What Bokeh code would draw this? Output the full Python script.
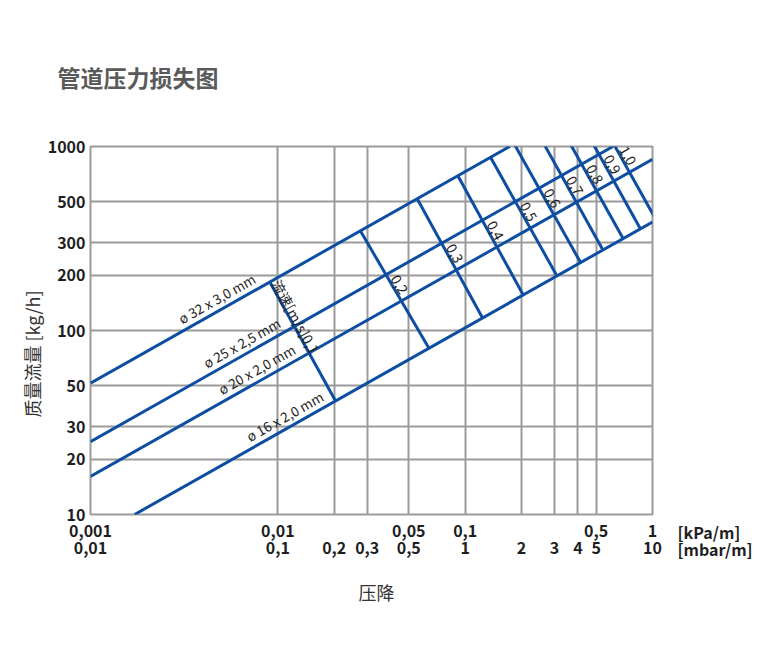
import math
from bokeh.plotting import figure
from bokeh.models import (LogAxis, FixedTicker, CustomJSTickFormatter, Range1d,
                          LogScale, Label, Title)
from bokeh.embed import file_html
from bokeh.resources import INLINE
from bokeh.core.properties import value

# ---------------- data ----------------
kpa_ticks = [0.001, 0.01, 0.05, 0.1, 0.5, 1]
mbar_ticks = [0.01, 0.1, 0.2, 0.3, 0.5, 1, 2, 3, 4, 5, 10]
flow_ticks = [10, 20, 30, 50, 100, 200, 300, 500, 1000]

pipe_names = ["ø 32 x 3,0 mm", "ø 25 x 2,5 mm", "ø 20 x 2,0 mm", "ø 16 x 2,0 mm"]
pipe_dp_start = [0.001, 0.001, 0.001, 0.00172]   # kPa/m
pipe_m_start = [51.7, 24.9, 16.1, 10.0]           # kg/h
pipe_dp_end = [0.173, 0.615, 1.0, 1.0]
pipe_m_end = [1000, 1000, 853, 389]
pipe_label_dp = [0.00507, 0.00689, 0.00828, 0.01168]

vel_labels = ["0,1", "0,2", "0,3", "0,4", "0,5", "0,6", "0,7", "0,8", "0,9", "1,0"]
vel_m_on_32 = [183.5, 348, 520, 693, 873, 1032, 1211, 1395, 1578, 1761]
vel_m_on_16 = [41.4, 80.1, 117, 156, 198, 234, 274, 316, 357, 399]

# ---------------- layout constants ----------------
FW, FH = 562, 368
PXD = FW / 3.0   # px per decade (x)
PYD = FH / 2.0   # px per decade (y)
BLUE = "#0d4ea3"
GRID = "#9b9b9b"
FONT = "Noto Sans CJK SC"
L = math.log10


def pipe_line(i):
    x0, y0 = L(pipe_dp_start[i]), L(pipe_m_start[i])
    x1, y1 = L(pipe_dp_end[i]), L(pipe_m_end[i])
    return x0, y0, (y1 - y0) / (x1 - x0)


def dp_on_pipe(i, m):
    x0, y0, k = pipe_line(i)
    return 10 ** (x0 + (L(m) - y0) / k)


def m_on_pipe(i, dp):
    x0, y0, k = pipe_line(i)
    return 10 ** (y0 + k * (L(dp) - x0))


p = figure(x_axis_type="log", y_axis_type="log",
           x_range=(0.001, 1), y_range=(10, 1000),
           frame_width=FW, frame_height=FH,
           min_border_left=90, min_border_right=128,
           min_border_top=146, min_border_bottom=145,
           output_backend="svg", toolbar_location=None)
p.background_fill_color = "white"
p.border_fill_color = "white"
p.outline_line_color = GRID
p.outline_line_width = 2

# grid
p.xgrid.ticker = FixedTicker(ticks=[m / 10.0 for m in mbar_ticks])
p.ygrid.ticker = FixedTicker(ticks=flow_ticks)
for g in (p.xgrid, p.ygrid):
    g.grid_line_color = GRID
    g.grid_line_width = 2

fmt = CustomJSTickFormatter(code="return String(tick).replace('.', ',');")


def style_axis(ax):
    ax.axis_line_color = None
    ax.major_tick_line_color = None
    ax.minor_tick_line_color = None
    ax.major_tick_out = 0
    ax.major_tick_in = 0
    ax.major_label_text_font = FONT
    ax.major_label_text_font_size = "16px"
    ax.major_label_text_font_style = "bold"
    ax.major_label_text_color = "#1e1e1e"
    ax.formatter = fmt


p.xaxis.ticker = FixedTicker(ticks=kpa_ticks)
p.yaxis.ticker = FixedTicker(ticks=flow_ticks)
style_axis(p.xaxis[0])
style_axis(p.yaxis[0])
p.xaxis.major_label_standoff = 10
p.yaxis.major_label_standoff = 5

p.extra_x_ranges = {"mbar": Range1d(0.01, 10)}
p.extra_x_scales = {"mbar": LogScale()}
ax2 = LogAxis(x_range_name="mbar", ticker=FixedTicker(ticks=mbar_ticks))
style_axis(ax2)
ax2.major_label_standoff = 2
p.add_layout(ax2, "below")

# y axis title as a side-panel title (shifted along the side)
ykw = dict(text="质量流量 [kg/h]", align="left", offset=97,
           text_font=FONT, text_font_size="18px", text_font_style="normal",
           text_color="#333333")
if "standoff" in Title.properties():
    ykw["standoff"] = 0
p.add_layout(Title(**ykw), "left")

# pipe lines
p.segment(x0=pipe_dp_start, y0=pipe_m_start, x1=pipe_dp_end, y1=pipe_m_end,
          line_color=BLUE, line_width=3)

# velocity lines
v_top_dp = [dp_on_pipe(0, m) for m in vel_m_on_32]
v_bot_dp = [dp_on_pipe(3, m) for m in vel_m_on_16]
p.segment(x0=v_top_dp, y0=vel_m_on_32, x1=v_bot_dp, y1=vel_m_on_16,
          line_color=BLUE, line_width=3)

# pipe labels
lx, ly, la, lxo, lyo = [], [], [], [], []
for i in range(4):
    _, _, k = pipe_line(i)
    a = math.atan2(k * PYD, PXD)
    lx.append(pipe_label_dp[i])
    ly.append(m_on_pipe(i, pipe_label_dp[i]))
    la.append(a)
    gap = 2.0
    lxo.append(-math.sin(a) * gap)
    lyo.append(-math.cos(a) * gap)
p.text(x=lx, y=ly, text=pipe_names, angle=la, x_offset=lxo, y_offset=lyo,
       text_font=value(FONT), text_font_size="13.5px", text_color="#1e1e1e",
       text_align="center", text_baseline="bottom")


# velocity labels
def cross(ax_, ay_, bx_, by_, i):
    x0, y0, k = pipe_line(i)
    dx, dy = bx_ - ax_, by_ - ay_
    t = (y0 + k * (ax_ - x0) - ay_) / (dy - k * dx)
    return ax_ + t * dx, ay_ + t * dy


vx, vy, va, vxo, vyo, vt = [], [], [], [], [], []
for j in range(1, len(vel_labels)):
    axl, ayl = L(v_top_dp[j]), L(vel_m_on_32[j])
    bxl, byl = L(v_bot_dp[j]), L(vel_m_on_16[j])
    c1 = cross(axl, ayl, bxl, byl, 1)
    c2 = cross(axl, ayl, bxl, byl, 2)
    mx, my = (c1[0] + c2[0]) / 2, (c1[1] + c2[1]) / 2
    a = math.atan2((byl - ayl) * PYD, (bxl - axl) * PXD)
    gap = 1.5
    vx.append(10 ** mx)
    vy.append(10 ** my)
    va.append(a)
    vxo.append(-math.sin(a) * gap)
    vyo.append(-math.cos(a) * gap)
    vt.append(vel_labels[j])
p.text(x=vx, y=vy, text=vt, angle=va, x_offset=vxo, y_offset=vyo,
       text_font=value(FONT), text_font_size="14px", text_color="#1e1e1e",
       text_align="center", text_baseline="bottom")

# first velocity label with unit
a0 = math.atan2((L(vel_m_on_16[0]) - L(vel_m_on_32[0])) * PYD,
                (L(v_bot_dp[0]) - L(v_top_dp[0])) * PXD)
p.text(x=[v_top_dp[0]], y=[vel_m_on_32[0]], text=["流速[m/s]" + vel_labels[0]],
       angle=[a0], x_offset=[-math.sin(a0) * 6 + math.cos(a0) * 2],
       y_offset=[-math.cos(a0) * 6 - math.sin(a0) * 2],
       text_font=value(FONT), text_font_size="14px", text_color="#1e1e1e",
       text_align="left", text_baseline="middle")

# unit labels, x title and page title (in the top panel so that they are
# not clipped to the frame)
for txt, off in (("[kPa/m]", -17), ("[mbar/m]", -34)):
    p.add_layout(Label(x=1, y=10, x_offset=25, y_offset=off, text=txt,
                       text_font=FONT, text_font_size="16px", text_font_style="bold",
                       text_color="#1e1e1e", text_align="left",
                       text_baseline="middle"), "above")

p.add_layout(Label(x=0.001, y=10, x_offset=268, y_offset=-77, text="压降",
                   text_font=FONT, text_font_size="18px", text_font_style="normal",
                   text_color="#333333", text_align="left", text_baseline="middle"),
             "above")

p.add_layout(Label(x=0.001, y=1000, x_offset=-33, y_offset=70, text="管道压力损失图",
                   text_font=FONT, text_font_size="23px", text_font_style="bold",
                   text_color="#5a5a5a", text_align="left", text_baseline="middle"),
             "above")

open("out.html", "w").write(file_html(p, INLINE))
